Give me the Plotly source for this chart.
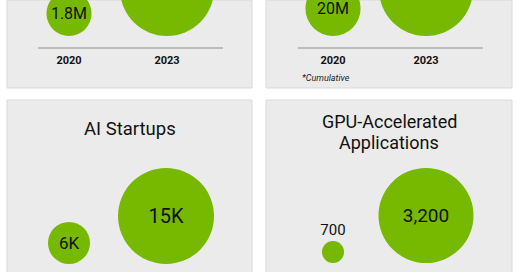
import plotly.graph_objects as go

W, H = 520, 272

# ---- data ----
years = ["2020", "2023"]
developers = [1.8, 4.0]            # millions
developers_labels = ["1.8M", "4M"]
cuda_downloads = [20, 40]          # millions, cumulative
cuda_labels = ["20M", "40M"]
ai_startups = [6000, 15000]
ai_startups_labels = ["6K", "15K"]
gpu_apps = [700, 3200]
gpu_apps_labels = ["700", "3,200"]

title_ai = "AI Startups"
title_gpu = ["GPU-Accelerated", "Applications"]
footnote = "*Cumulative"

# ---- style ----
GREEN = "#76b900"
PANEL = "#ebebeb"
FONT = "Roboto"
TXT = "#111111"
TEXT_NUDGE = 2  # px downward nudge of value labels

def px_x(p):
    return p / W

def px_y(p):
    return 1 - p / H

panels = [(7, 0, 252, 88), (266, 0, 512, 88), (7, 100, 252, 290), (266, 100, 512, 290)]

axes_cfg = [
    dict(xd=(38, 223), yd=(0, 47), c0=69, sp=98, base=36, show=True),
    dict(xd=(298, 483), yd=(0, 47), c0=333, sp=93, base=36, show=True),
    dict(xd=(38, 223), yd=(100, 272), c0=69, sp=97, base=264, show=False),
    dict(xd=(298, 483), yd=(100, 272), c0=333, sp=93, base=263, show=False),
]
dmax = [94, 94, 96, 95]
gamma = [0.92, 0.77, 0.90, 0.96]
label_sizes = [[16, 16], [16, 16], [17, 20], [15, 19]]

series = [
    (developers, developers_labels),
    (cuda_downloads, cuda_labels),
    (ai_startups, ai_startups_labels),
    (gpu_apps, gpu_apps_labels),
]

fig = go.Figure()
shapes = []
annotations = []
layout = dict(
    width=W, height=H, margin=dict(l=0, r=0, t=0, b=0),
    paper_bgcolor="white", plot_bgcolor="rgba(0,0,0,0)",
    showlegend=False,
)

for (x0, y0, x1, y1) in panels:
    shapes.append(dict(
        type="rect", xref="paper", yref="paper",
        x0=px_x(x0), x1=px_x(x1), y0=px_y(min(y1, H + 10)), y1=px_y(y0),
        fillcolor=PANEL, line=dict(color="#d9d9d9", width=1), layer="below",
    ))

for i, ((vals, labels), cfg) in enumerate(zip(series, axes_cfg)):
    n = i + 1
    xa = "xaxis" if n == 1 else f"xaxis{n}"
    ya = "yaxis" if n == 1 else f"yaxis{n}"
    xr = "x" if n == 1 else f"x{n}"
    yr = "y" if n == 1 else f"y{n}"
    vmax = max(vals)
    diam = [dmax[i] * (v / vmax) ** gamma[i] for v in vals]
    left = (cfg["xd"][0] - cfg["c0"]) / cfg["sp"]
    right = (cfg["xd"][1] - cfg["c0"]) / cfg["sp"]
    ytop = cfg["base"] - cfg["yd"][0]
    ybot = cfg["base"] - cfg["yd"][1]

    # circles as shapes in data coordinates (bottom-aligned on the baseline)
    for k, d in enumerate(diam):
        r_x = (d / 2) / cfg["sp"]
        shapes.append(dict(
            type="circle", xref=xr, yref=yr,
            x0=k - r_x, x1=k + r_x, y0=0, y1=d,
            fillcolor=GREEN, line=dict(width=0), layer="below",
        ))

    # value labels: inside large circles, above small ones; only those in view
    tx, ty, tt, ts = [], [], [], []
    for k, (d, lab) in enumerate(zip(diam, labels)):
        yc = d / 2 if d > 30 else d + 12
        if yc > ytop - 4:
            continue
        tx.append(years[k]); ty.append(yc - TEXT_NUDGE); tt.append(lab); ts.append(label_sizes[i][k])
    fig.add_trace(go.Scatter(
        x=tx, y=ty, mode="text", xaxis=xr, yaxis=yr,
        text=tt, textposition="middle center",
        textfont=dict(family=FONT, size=ts, color=TXT),
        cliponaxis=False, hoverinfo="skip",
    ))

    layout[xa] = dict(
        domain=[px_x(cfg["xd"][0]), px_x(cfg["xd"][1])], anchor=yr,
        type="category", categoryarray=years, categoryorder="array",
        range=[left, right],
        showgrid=False, zeroline=False,
        showline=cfg["show"], linecolor="#bdbdbd", linewidth=2,
        showticklabels=cfg["show"], ticks="",
        tickfont=dict(family=FONT, size=11, color=TXT, weight="bold"),
        ticklabelstandoff=2,
        fixedrange=True,
    )
    layout[ya] = dict(
        domain=[px_y(cfg["yd"][1]), px_y(cfg["yd"][0])], anchor=xr,
        range=[ybot, ytop], visible=False, fixedrange=True,
    )

annotations.append(dict(
    xref="paper", yref="paper", x=px_x(130), y=px_y(129), text=title_ai,
    showarrow=False, font=dict(family=FONT, size=18.5, color=TXT),
    xanchor="center", yanchor="middle",
))
for line, yy in zip(title_gpu, [122, 142]):
    annotations.append(dict(
        xref="paper", yref="paper", x=px_x(389), y=px_y(yy), text=line,
        showarrow=False, font=dict(family=FONT, size=18, color=TXT),
        xanchor="center", yanchor="middle",
    ))
annotations.append(dict(
    xref="paper", yref="paper", x=px_x(300), y=px_y(78), text=f"<i>{footnote}</i>",
    showarrow=False, font=dict(family=FONT, size=9, color="#222222"),
    xanchor="left", yanchor="middle",
))

layout["shapes"] = shapes
layout["annotations"] = annotations
fig.update_layout(**layout)
fig.write_html("out.html")
